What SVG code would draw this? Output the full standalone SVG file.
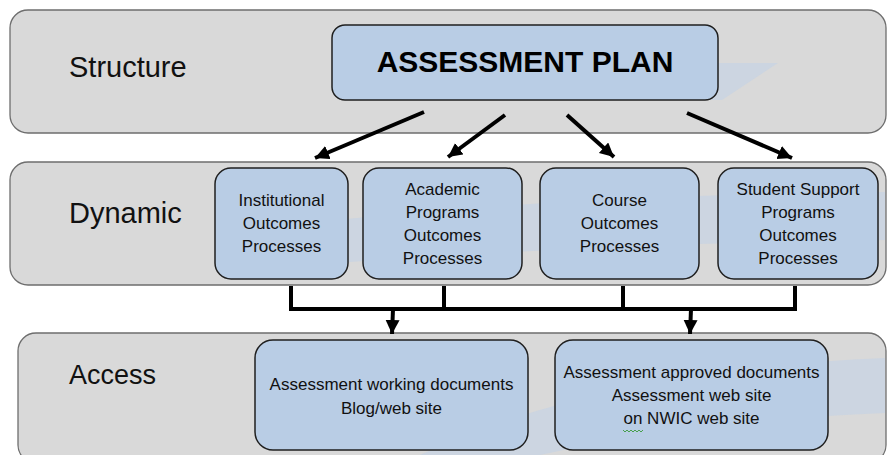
<svg xmlns="http://www.w3.org/2000/svg" width="889" height="455" viewBox="0 0 889 455">
  <style>
    .band { fill: #d9d9d9; stroke: #6e6e6e; stroke-width: 1.3; }
    .box { fill: #b9cde5; stroke: #1f1f1f; stroke-width: 1.5; }
    .glow { fill: #c7d3e3; opacity: 0.75; }
    .lbl { font-family: "Liberation Sans", Arial, sans-serif; font-size: 29px; fill: #111; }
    .t { font-family: "Liberation Sans", Arial, sans-serif; font-size: 17px; fill: #111; text-anchor: middle; }
    .title { font-family: "Liberation Sans", Arial, sans-serif; font-size: 30px; font-weight: bold; fill: #000; text-anchor: middle; }
    .conn { stroke: #000; stroke-width: 4; fill: none; }
  </style>
  <defs>
    <marker id="ah" markerUnits="userSpaceOnUse" markerWidth="16" markerHeight="16" refX="14" refY="7" orient="auto">
      <path d="M0,0 L14,7 L0,14 Z" fill="#000"/>
    </marker>
  </defs>

  <rect width="889" height="455" fill="#ffffff"/>

  <g id="band-structure">
    <rect class="band" x="10" y="10" width="876" height="123" rx="18"/>
    <path class="glow" d="M700,63 L778,63 L722,100 L700,100 Z"/>
    <text class="lbl" x="69" y="77">Structure</text>
  </g>

  <g id="band-dynamic">
    <rect class="band" x="10" y="162" width="876" height="123" rx="18"/>
    <path class="glow" d="M240,232 Q500,196 885,192 L885,240 Q600,244 350,262 Q290,270 240,278 Z"/>
    <text class="lbl" x="69" y="223">Dynamic</text>
  </g>

  <g id="band-access">
    <rect class="band" x="18" y="333" width="868" height="130" rx="18"/>
    <path class="glow" d="M420,455 Q600,370 885,358 L885,413 Q700,420 540,455 Z"/>
    <text class="lbl" x="69" y="384" style="font-size:27px">Access</text>
  </g>

  <g id="node-plan">
    <rect class="box" x="332" y="25" width="386" height="75" rx="13"/>
    <text class="title" x="525" y="72">ASSESSMENT PLAN</text>
  </g>

  <g id="node-institutional">
    <rect class="box" x="215" y="168" width="133" height="111" rx="16"/>
    <text class="t" x="281.5" y="206">Institutional</text>
    <text class="t" x="281.5" y="229">Outcomes</text>
    <text class="t" x="281.5" y="252">Processes</text>
  </g>

  <g id="node-academic">
    <rect class="box" x="363" y="168" width="159" height="111" rx="16"/>
    <text class="t" x="442.5" y="195">Academic</text>
    <text class="t" x="442.5" y="218">Programs</text>
    <text class="t" x="442.5" y="241">Outcomes</text>
    <text class="t" x="442.5" y="264">Processes</text>
  </g>

  <g id="node-course">
    <rect class="box" x="540" y="168" width="159" height="111" rx="16"/>
    <text class="t" x="619.5" y="206">Course</text>
    <text class="t" x="619.5" y="229">Outcomes</text>
    <text class="t" x="619.5" y="252">Processes</text>
  </g>

  <g id="node-student">
    <rect class="box" x="718" y="168" width="160" height="111" rx="16"/>
    <text class="t" x="798" y="195">Student Support</text>
    <text class="t" x="798" y="218">Programs</text>
    <text class="t" x="798" y="241">Outcomes</text>
    <text class="t" x="798" y="264">Processes</text>
  </g>

  <g id="node-working">
    <rect class="box" x="255" y="340" width="273" height="110" rx="18"/>
    <text class="t" x="391.5" y="390">Assessment working documents</text>
    <text class="t" x="391.5" y="414">Blog/web site</text>
  </g>

  <g id="node-approved">
    <rect class="box" x="555" y="340" width="273" height="110" rx="18"/>
    <text class="t" x="691.5" y="378">Assessment approved documents</text>
    <text class="t" x="691.5" y="401">Assessment web site</text>
    <text class="t" x="691.5" y="424">on NWIC web site</text>
    <path d="M623,430 l2,2 l2,-2 l2,2 l2,-2 l2,2 l2,-2 l2,2 l2,-2 l2,2 l2,-2" stroke="#3a9a3a" stroke-width="0.9" fill="none"/>
  </g>

  <g id="connectors">
    <line class="conn" x1="424" y1="112" x2="315" y2="158" marker-end="url(#ah)"/>
    <line class="conn" x1="505" y1="115" x2="448" y2="157" marker-end="url(#ah)"/>
    <line class="conn" x1="567" y1="115" x2="614" y2="157" marker-end="url(#ah)"/>
    <line class="conn" x1="687" y1="113" x2="792" y2="158" marker-end="url(#ah)"/>
    <path class="conn" d="M291,286 V309 H795 V286 M444,286 V309 M623,286 V309" stroke-linejoin="miter"/>
    <line class="conn" x1="393" y1="309" x2="392" y2="334" marker-end="url(#ah)"/>
    <line class="conn" x1="691" y1="309" x2="690" y2="334" marker-end="url(#ah)"/>
  </g>
</svg>
